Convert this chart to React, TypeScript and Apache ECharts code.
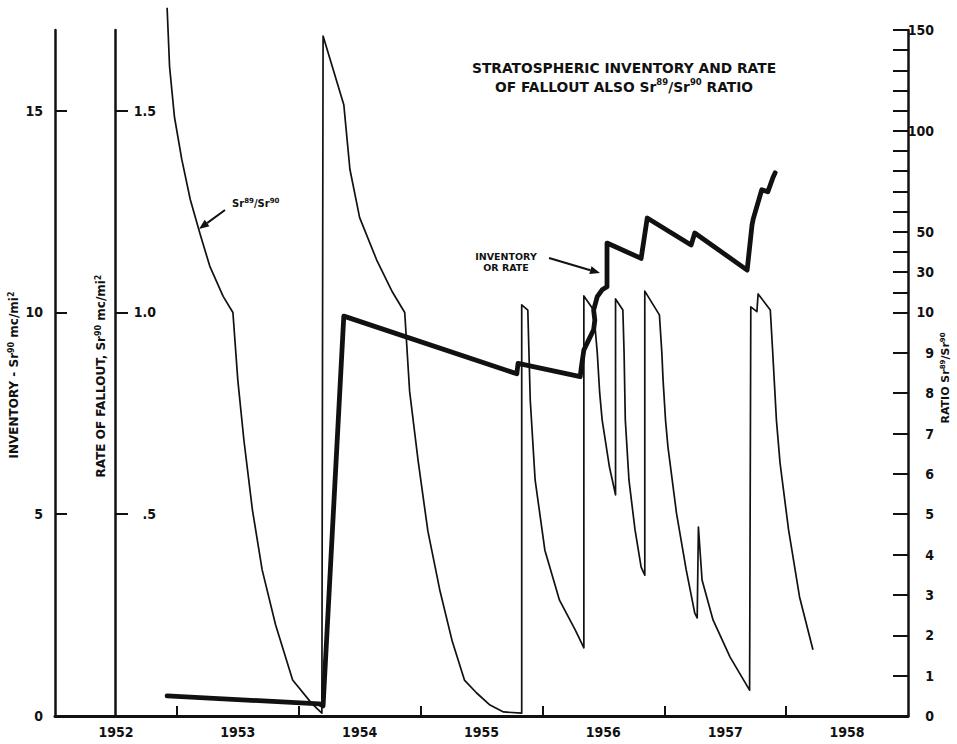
import React, { useEffect, useRef } from 'react';
import * as echarts from 'echarts';

// ---- axis ticks / labels ----
const yearLabels = [1952, 1953, 1954, 1955, 1956, 1957, 1958];
const yearTicks = [1952.5, 1953.5, 1954.5, 1955.5, 1956.5, 1957.5];
const inventoryTicks = [0, 5, 10, 15];
const rateTicks = [0.5, 1.0, 1.5];
const rateTickLabels = ['.5', '1.0', '1.5'];
const ratioTickValues = [0, 1, 2, 3, 4, 5, 6, 7, 8, 9, 10, 20, 30, 40, 50, 60, 70, 80, 90, 100, 110, 120, 130, 140, 150];
const ratioLabelValues = [0, 1, 2, 3, 4, 5, 6, 7, 8, 9, 10, 30, 50, 100, 150];

// ---- inventory / rate of fallout (thick line) ----
const inventoryYears = [1952.42, 1953.67, 1953.70, 1953.87, 1955.29, 1955.30, 1955.81, 1955.82, 1955.84, 1955.88, 1955.92, 1955.93, 1955.92, 1955.95, 1955.99, 1956.03, 1956.03, 1956.31, 1956.36, 1956.72, 1956.75, 1957.18, 1957.22, 1957.23, 1957.30, 1957.35, 1957.39, 1957.41];
const inventoryValues = [0.50, 0.30, 0.25, 9.91, 8.48, 8.74, 8.41, 8.66, 9.07, 9.32, 9.57, 9.81, 10.06, 10.39, 10.56, 10.64, 11.72, 11.34, 12.34, 11.67, 11.97, 11.05, 12.17, 12.32, 13.04, 12.99, 13.33, 13.46];

// ---- Sr89/Sr90 ratio (thin line) ----
const ratioYears = [
  1952.42, 1952.44, 1952.48, 1952.54, 1952.61, 1952.69, 1952.77, 1952.88, 1952.96, 1953.00, 1953.05, 1953.12, 1953.20, 1953.31, 1953.45, 1953.61, 1953.69,
  1953.70, 1953.87, 1953.92, 1954.00, 1954.14, 1954.27, 1954.37, 1954.41, 1954.48, 1954.56, 1954.66, 1954.76, 1954.86, 1954.96, 1955.07, 1955.18, 1955.33,
  1955.33, 1955.38, 1955.40, 1955.44, 1955.52, 1955.64, 1955.77, 1955.84,
  1955.84, 1955.92, 1955.95, 1955.97, 1955.99, 1956.05, 1956.10,
  1956.10, 1956.16, 1956.17, 1956.18, 1956.21, 1956.26, 1956.31, 1956.34,
  1956.34, 1956.46, 1956.48, 1956.49, 1956.51, 1956.53, 1956.60, 1956.68, 1956.75, 1956.77,
  1956.78, 1956.81, 1956.90, 1957.04, 1957.20,
  1957.21, 1957.26, 1957.27, 1957.37, 1957.39, 1957.42, 1957.45, 1957.52, 1957.61, 1957.72,
];
const ratioValues = [
  161, 132, 107, 86, 66, 49, 33, 18, 10, 8.33, 6.84, 5.11, 3.62, 2.26, 0.89, 0.30, 0.07,
  147, 113, 81, 57, 36, 20, 10, 8.05, 6.32, 4.58, 3.09, 1.85, 0.89, 0.57, 0.27, 0.10, 0.07,
  13.8, 11.2, 7.83, 5.85, 4.11, 2.87, 2.13, 1.69,
  18.2, 11.2, 9.0, 8.0, 7.34, 6.17, 5.48,
  16.7, 11.2, 9.0, 7.34, 5.85, 4.61, 3.69, 3.49,
  20.6, 9.94, 9.0, 8.33, 7.34, 6.67, 5.03, 3.62, 2.55, 2.43,
  4.68, 3.37, 2.38, 1.46, 0.64,
  12.8, 10.4, 19.2, 11.2, 9.0, 7.34, 6.27, 4.61, 2.95, 1.64,
];

// right axis of the original is linear 0-10 (one unit per major step), then 10-150 at 20 units per step
const ratioToAxis = (v: number) => (v <= 10 ? v : 10 + (v - 10) / 20);
const axisToRatio = (t: number) => (t <= 10 ? t : 10 + (t - 10) * 20);

const FONT = '"Liberation Sans Narrow", "DejaVu Sans Condensed", "Liberation Sans", Arial, sans-serif';
const TITLE_FONT = '"DejaVu Sans", "Liberation Sans", sans-serif';
const INK = '#111';

function arrow(x1: number, y1: number, x2: number, y2: number) {
  const dx = x2 - x1, dy = y2 - y1;
  const len = Math.sqrt(dx * dx + dy * dy);
  const ux = dx / len, uy = dy / len;
  const hl = 10, hw = 4;
  const bx = x2 - ux * hl, by = y2 - uy * hl;
  return [
    { type: 'line', shape: { x1, y1, x2: bx, y2: by }, style: { stroke: INK, lineWidth: 2 } },
    {
      type: 'polygon',
      shape: { points: [[x2, y2], [bx - uy * hw, by + ux * hw], [bx + uy * hw, by - ux * hw]] },
      style: { fill: INK },
    },
  ];
}

const supRich = (family: string, size: number) => ({
  sup: { fontSize: size, fontWeight: 'bold', fontFamily: family, fill: INK, verticalAlign: 'top', padding: [0, 0, 5, 0] },
});

export default function App() {
  const ref = useRef<HTMLDivElement>(null);
  useEffect(() => {
    document.body.style.margin = '0';
    if (!ref.current) return;
    const chart = echarts.init(ref.current, null, { renderer: 'svg' });
    const labelStyle = { color: INK, fontWeight: 'bold', fontFamily: FONT, fontSize: 14 };
    chart.setOption({
      animation: false,
      backgroundColor: '#fff',
      grid: { left: 55, right: 49, top: 30, bottom: 28, containLabel: false },
      xAxis: [
        {
          type: 'value', min: 1951.5, max: 1958.5, position: 'bottom',
          axisLine: { show: true, lineStyle: { color: INK, width: 3 } },
          axisTick: { show: true, inside: true, length: 10, lineStyle: { color: INK, width: 2 }, customValues: yearTicks },
          axisLabel: { ...labelStyle, margin: 9, customValues: yearLabels, formatter: (v: number) => String(Math.round(v)) },
          splitLine: { show: false },
        },
        {
          type: 'value', min: 1951.5, max: 1958.5, position: 'top',
          axisLine: { show: true, lineStyle: { color: INK, width: 2 } },
          axisTick: { show: false }, axisLabel: { show: false }, splitLine: { show: false },
        },
      ],
      yAxis: [
        {
          type: 'value', min: 0, max: 17, position: 'left',
          axisLine: { show: true, lineStyle: { color: INK, width: 2.5 } },
          axisTick: { show: true, inside: true, length: 12, lineStyle: { color: INK, width: 2 }, customValues: inventoryTicks },
          axisLabel: { ...labelStyle, margin: 12, customValues: inventoryTicks, formatter: (v: number) => String(v) },
          splitLine: { show: false },
        },
        {
          type: 'value', min: 0, max: 1.7, position: 'left', offset: -60,
          axisLine: { show: true, onZero: false, lineStyle: { color: INK, width: 2.5 } },
          axisTick: { show: true, inside: true, length: 13, lineStyle: { color: INK, width: 2 }, customValues: rateTicks },
          axisLabel: {
            ...labelStyle, inside: true, align: 'right', margin: 41, customValues: rateTicks,
            formatter: (v: number) => rateTickLabels[rateTicks.indexOf(v)] ?? '',
          },
          splitLine: { show: false },
        },
        {
          type: 'value', min: 0, max: 17, position: 'right',
          axisLine: { show: true, lineStyle: { color: INK, width: 2.5 } },
          axisTick: { show: true, inside: true, length: 15, lineStyle: { color: INK, width: 2 }, customValues: ratioTickValues.map(ratioToAxis) },
          axisLabel: {
            ...labelStyle, align: 'right', margin: 26, customValues: ratioLabelValues.map(ratioToAxis),
            formatter: (t: number) => String(Math.round(axisToRatio(t))),
          },
          splitLine: { show: false },
        },
      ],
      series: [
        {
          name: 'Sr89/Sr90', type: 'line', xAxisIndex: 0, yAxisIndex: 2, clip: false,
          data: ratioYears.map((y, i) => [y, ratioToAxis(ratioValues[i])]),
          showSymbol: false, symbol: 'none',
          lineStyle: { color: INK, width: 1.7, join: 'round' },
        },
        {
          name: 'Inventory or rate', type: 'line', xAxisIndex: 0, yAxisIndex: 0,
          data: inventoryYears.map((y, i) => [y, inventoryValues[i]]),
          showSymbol: false, symbol: 'none',
          lineStyle: { color: INK, width: 4.8, join: 'round', cap: 'round' },
        },
      ],
      graphic: [
        {
          type: 'text', x: 624, y: 77,
          style: {
            text: 'STRATOSPHERIC INVENTORY AND RATE\nOF FALLOUT ALSO Sr{sup|89}/Sr{sup|90} RATIO',
            align: 'center', verticalAlign: 'middle', lineHeight: 19,
            fontSize: 13.8, fontWeight: 'bold', fontFamily: TITLE_FONT, fill: INK, rich: supRich(TITLE_FONT, 8.5),
          },
        },
        {
          type: 'text', x: 14, y: 375, rotation: Math.PI / 2,
          style: {
            text: 'INVENTORY - Sr{sup|90} mc/mi{sup|2}', align: 'center', verticalAlign: 'middle',
            fontSize: 12, fontWeight: 'bold', fontFamily: TITLE_FONT, fill: INK, rich: supRich(TITLE_FONT, 8),
          },
        },
        {
          type: 'text', x: 101, y: 376, rotation: Math.PI / 2,
          style: {
            text: 'RATE OF FALLOUT, Sr{sup|90} mc/mi{sup|2}', align: 'center', verticalAlign: 'middle',
            fontSize: 12, fontWeight: 'bold', fontFamily: TITLE_FONT, fill: INK, rich: supRich(TITLE_FONT, 8),
          },
        },
        {
          type: 'text', x: 945, y: 378, rotation: Math.PI / 2,
          style: {
            text: 'RATIO Sr{sup|89}/Sr{sup|90}', align: 'center', verticalAlign: 'middle',
            fontSize: 11, fontWeight: 'bold', fontFamily: TITLE_FONT, fill: INK, rich: supRich(TITLE_FONT, 7),
          },
        },
        {
          type: 'text', x: 232, y: 203,
          style: {
            text: 'Sr{sup|89}/Sr{sup|90}', align: 'left', verticalAlign: 'middle',
            fontSize: 10, fontWeight: 'bold', fontFamily: TITLE_FONT, fill: INK, rich: supRich(TITLE_FONT, 7),
          },
        },
        {
          type: 'text', x: 506, y: 262,
          style: {
            text: 'INVENTORY\nOR RATE', align: 'center', verticalAlign: 'middle', lineHeight: 11,
            fontSize: 9.5, fontWeight: 'bold', fontFamily: TITLE_FONT, fill: INK,
          },
        },
        ...arrow(225, 210, 199, 229),
        ...arrow(549, 258, 600, 273),
      ],
    });
    return () => chart.dispose();
  }, []);
  return <div ref={ref} style={{ width: 957, height: 744 }} />;
}
